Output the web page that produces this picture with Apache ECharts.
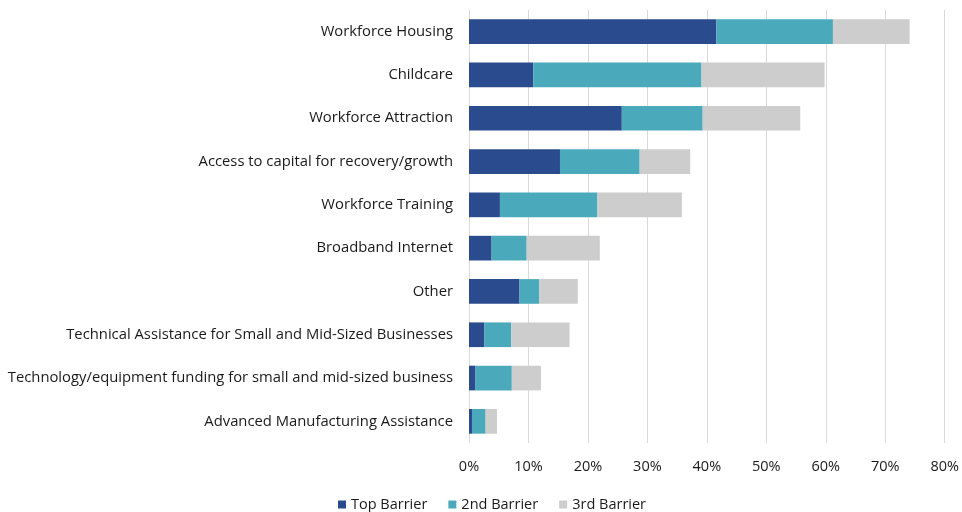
<!DOCTYPE html>
<html>
<head>
<meta charset="utf-8">
<script src="https://cdn.jsdelivr.net/npm/echarts@6/dist/echarts.min.js"></script>
<style>
  html, body { margin: 0; padding: 0; background: #ffffff; }
  #chart { width: 962px; height: 512px; }
</style>
</head>
<body>
<div id="chart"></div>
<script>
// Categories listed bottom-to-top (category axis on y runs upward)
const categories = [
  'Advanced Manufacturing Assistance',
  'Technology/equipment funding for small and mid-sized business',
  'Technical Assistance for Small and Mid-Sized Businesses',
  'Other',
  'Broadband Internet',
  'Workforce Training',
  'Access to capital for recovery/growth',
  'Workforce Attraction',
  'Childcare',
  'Workforce Housing'
];

// Share of respondents (%) per ranking
const topBarrier = [0.5, 1.1, 2.6, 8.5, 3.8, 5.2, 15.3, 25.7, 10.8, 41.6];
const secondBarrier = [2.3, 6.1, 4.5, 3.3, 5.9, 16.4, 13.4, 13.6, 28.3, 19.6];
const thirdBarrier = [1.9, 4.9, 9.8, 6.5, 12.3, 14.2, 8.5, 16.4, 20.7, 12.9];

const seriesNames = ['Top Barrier', '2nd Barrier', '3rd Barrier'];
const xTicks = [0, 10, 20, 30, 40, 50, 60, 70, 80];

const FONT = '"Open Sans"';
const TEXT = '#1a1a1a';

const chart = echarts.init(document.getElementById('chart'), null, { renderer: 'canvas' });

function barSeries(name, data, color) {
  return {
    name: name,
    type: 'bar',
    stack: 'total',
    data: data,
    barCategoryGap: '43%',
    itemStyle: { color: color },
    emphasis: { disabled: true }
  };
}

chart.setOption({
  animation: false,
  backgroundColor: '#ffffff',
  grid: { left: 469, right: 13, top: 10, bottom: 69, containLabel: false },
  xAxis: {
    type: 'value',
    min: xTicks[0],
    max: xTicks[xTicks.length - 1],
    interval: 10,
    axisLine: { show: false },
    axisTick: { show: false },
    splitLine: { show: true, lineStyle: { color: '#d9d9d9', width: 1 } },
    axisLabel: {
      formatter: v => v + '%',
      fontFamily: FONT, fontSize: 14.5, color: TEXT, margin: 16
    }
  },
  yAxis: {
    type: 'category',
    data: categories,
    axisLine: { show: false },
    axisTick: { show: false },
    axisLabel: { fontFamily: FONT, fontSize: 14.8, color: TEXT, margin: 16 }
  },
  legend: {
    data: seriesNames,
    top: 495,
    left: 336,
    padding: 2,
    itemWidth: 8,
    itemHeight: 8,
    itemGap: 21,
    icon: 'rect',
    textStyle: { fontFamily: FONT, fontSize: 14.5, color: TEXT }
  },
  series: [
    barSeries(seriesNames[0], topBarrier, '#2a4b8d'),
    barSeries(seriesNames[1], secondBarrier, '#4aaabb'),
    barSeries(seriesNames[2], thirdBarrier, '#cdcdcd')
  ]
});
</script>
</body>
</html>
